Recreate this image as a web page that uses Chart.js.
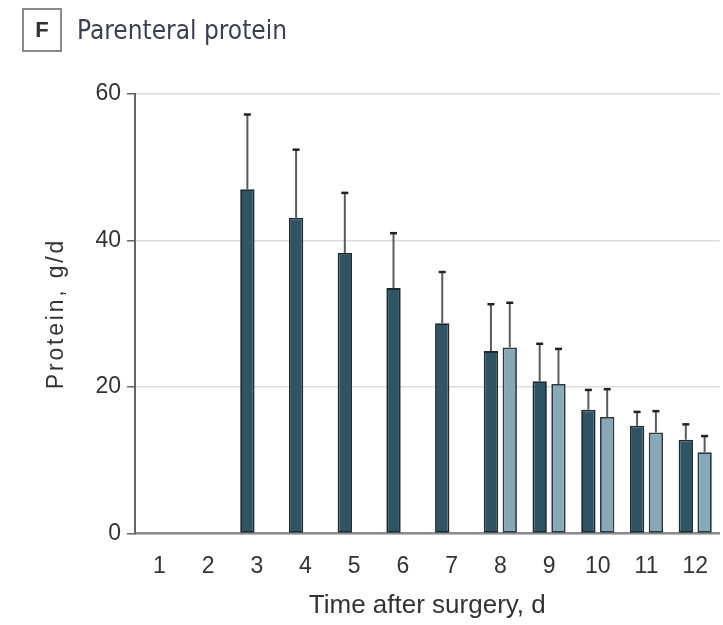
<!DOCTYPE html>
<html>
<head>
<meta charset="utf-8">
<script src="https://cdn.jsdelivr.net/npm/chart.js@4/dist/chart.umd.min.js"></script>
<style>
html,body{margin:0;padding:0;background:#fff;overflow:hidden;}
#wrap{position:relative;width:723px;height:625px;overflow:hidden;background:#fff;}
#chart{position:absolute;left:0;top:0;}
#title{position:absolute;left:22px;top:8px;height:44px;display:flex;align-items:center;color:#3b3f52;}
#panel{box-sizing:border-box;width:40px;height:44px;border:2px solid #8a8a8a;display:flex;align-items:center;justify-content:center;font-weight:bold;font-size:22px;color:#333;font-family:"Liberation Sans",Arial,sans-serif;}
#ttext{margin-left:15px;font-size:26px;font-family:"DejaVu Sans Condensed","DejaVu Sans",sans-serif;}
</style>
</head>
<body>
<div id="wrap">
<canvas id="chart" width="727" height="625"></canvas>
<div id="title"><div id="panel">F</div><div id="ttext">Parenteral protein</div></div>
</div>
<script>
// Categories (day after surgery)
const days = ['1','2','3','4','5','6','7','8','9','10','11','12'];
// y-axis tick values
const yTicks = [0, 20, 40, 60];
// Series A (dark) mean and SD
const meanA = [null, null, 47.0, 43.1, 38.3, 33.5, 28.7, 24.9, 20.8, 16.9, 14.7, 12.8];
const sdA   = [null, null, 10.2,  9.3,  8.2,  7.5,  7.0,  6.4,  5.1,  2.7,  1.9,  2.1];
// Series B (light) mean and SD
const meanB = [null, null, null, null, null, null, null, 25.4, 20.4, 15.9, 13.8, 11.1];
const sdB   = [null, null, null, null, null, null, null,  6.1,  4.8,  3.8,  2.9,  2.2];

const FONT = '"Liberation Sans", Arial, sans-serif';
const sdList = [sdA, sdB];

const errorBars = {
  id: 'errorBars',
  afterDatasetsDraw(chart) {
    const ctx = chart.ctx;
    const yScale = chart.scales.y;
    chart.data.datasets.forEach((ds, i) => {
      const meta = chart.getDatasetMeta(i);
      const sd = sdList[i];
      meta.data.forEach((bar, j) => {
        const m = ds.data[j];
        if (m === null || sd[j] === null) return;
        const x = bar.x;
        const yTop = yScale.getPixelForValue(m + sd[j]);
        const yBar = bar.y;
        ctx.save();
        ctx.strokeStyle = '#5a5a5a';
        ctx.lineWidth = 2;
        ctx.beginPath();
        ctx.moveTo(x, yBar);
        ctx.lineTo(x, yTop);
        ctx.stroke();
        ctx.strokeStyle = '#222';
        ctx.lineWidth = 2.5;
        ctx.beginPath();
        ctx.moveTo(x - 3.5, yTop);
        ctx.lineTo(x + 3.5, yTop);
        ctx.stroke();
        ctx.restore();
      });
    });
  }
};

const yTitle = {
  id: 'yTitle',
  afterDraw(chart) {
    const ctx = chart.ctx;
    ctx.save();
    ctx.translate(57, 315);
    ctx.rotate(-Math.PI / 2);
    ctx.font = '23px ' + FONT;
    ctx.fillStyle = '#333';
    ctx.textAlign = 'center';
    ctx.textBaseline = 'middle';
    try { ctx.letterSpacing = '2.8px'; } catch (e) {}
    ctx.fillText('Protein, g/d', 1.4, 0);
    ctx.restore();
  }
};

new Chart(document.getElementById('chart'), {
  type: 'bar',
  data: {
    labels: days,
    datasets: [
      {
        data: meanA,
        backgroundColor: '#2f5463',
        borderColor: '#1c2a30',
        borderWidth: 1.8,
        borderSkipped: false,
        categoryPercentage: 0.772,
        barPercentage: 0.763
      },
      {
        data: meanB,
        backgroundColor: '#87a9b7',
        borderColor: '#2a3a41',
        borderWidth: 1.8,
        borderSkipped: false,
        categoryPercentage: 0.772,
        barPercentage: 0.763
      }
    ]
  },
  options: {
    responsive: false,
    animation: false,
    devicePixelRatio: 1,
    layout: { padding: { top: 94, left: 0, right: 0, bottom: 0 } },
    plugins: { legend: { display: false }, tooltip: { enabled: false } },
    scales: {
      x: {
        grid: { display: false, drawTicks: false },
        border: { display: true, color: '#8c8c8c', width: 2.5 },
        ticks: { font: { family: FONT, size: 23 }, color: '#333', padding: 19, maxRotation: 0 },
        title: { display: true, text: 'Time after surgery, d', font: { family: FONT, size: 26 }, color: '#333', padding: { top: 0, bottom: 4 } },
        afterFit(s) { s.height = 91.5; }
      },
      y: {
        min: 0,
        max: 60,
        afterBuildTicks(s) { s.ticks = yTicks.map(v => ({ value: v })); },
        grid: { color: '#dddddd', lineWidth: 1.5, tickColor: '#666', tickLength: 8, drawTicks: true },
        border: { display: true, color: '#666', width: 2 },
        ticks: { font: { family: FONT, size: 23 }, color: '#333', padding: 6 },
        afterFit(s) { s.width = 135; }
      }
    }
  },
  plugins: [errorBars, yTitle]
});
</script>
</body>
</html>
